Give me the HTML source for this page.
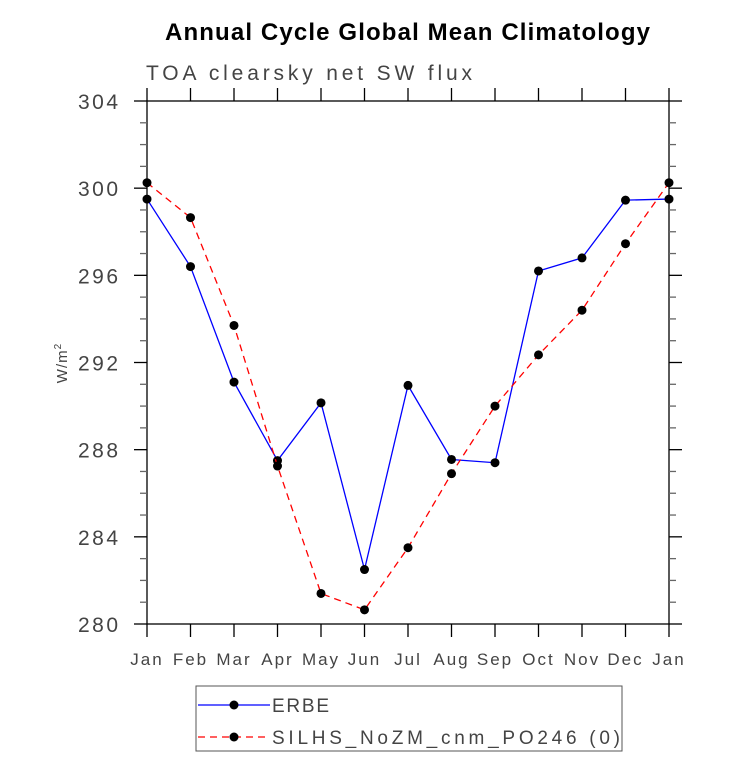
<!DOCTYPE html>
<html><head><meta charset="utf-8"><style>
body{margin:0;background:#fff;}
svg text{font-family:"Liberation Sans",sans-serif;}
</style></head><body>
<svg id="chart" width="733" height="761" xmlns="http://www.w3.org/2000/svg">
<text x="165" y="40" font-size="24" font-weight="bold" textLength="485" lengthAdjust="spacing">Annual Cycle Global Mean Climatology</text>
<text x="146" y="80" font-size="21" fill="#444" textLength="326" lengthAdjust="spacing">TOA clearsky net SW flux</text>
<text transform="translate(67,363) rotate(-90)" text-anchor="middle" font-size="15" fill="#444" letter-spacing="1">W/m<tspan dy="-6" font-size="10">2</tspan></text>
<g id="axes"></g>
<g id="series"></g>
<g>
<rect x="196" y="686" width="426" height="65" fill="none" stroke="#555" stroke-width="1"/>
<line x1="198" y1="705" x2="270" y2="705" stroke="#0000ff" stroke-width="1.3"/>
<circle cx="234" cy="705" r="4.5" fill="#000"/>
<text x="272" y="712" font-size="19" fill="#444" textLength="57" lengthAdjust="spacing">ERBE</text>
<line x1="198" y1="737" x2="270" y2="737" stroke="#ff0000" stroke-width="1.3" stroke-dasharray="7,5"/>
<circle cx="234" cy="737" r="4.5" fill="#000"/>
<text x="272" y="744" font-size="19" fill="#444" textLength="348" lengthAdjust="spacing">SILHS_NoZM_cnm_PO246 (0)</text>
</g>
</svg>
<script>
const months=["Jan","Feb","Mar","Apr","May","Jun","Jul","Aug","Sep","Oct","Nov","Dec","Jan"];
const erbe=[299.5,296.4,291.1,287.5,290.15,282.5,290.95,287.55,287.4,296.2,296.8,299.45,299.5];
const silhs=[300.25,298.65,293.7,287.25,281.4,280.65,283.5,286.9,290.0,292.35,294.4,297.45,300.25];
const yTicks=[280,284,288,292,296,300,304];
const X0=147,X1=669,Y0=624,Y1=101,YMIN=280,YMAX=304;
const xs=i=>X0+(X1-X0)*i/(months.length-1);
const ys=v=>Y0-(Y0-Y1)*(v-YMIN)/(YMAX-YMIN);
const NS="http://www.w3.org/2000/svg";
function mk(tag,attrs,parent){const e=document.createElementNS(NS,tag);for(const k in attrs)e.setAttribute(k,attrs[k]);parent.appendChild(e);return e;}
const ax=document.getElementById('axes');
const frame=mk('rect',{x:X0,y:Y1,width:X1-X0,height:Y0-Y1,fill:'none',stroke:'#000','stroke-width':1.3},ax);


months.forEach((m,i)=>{
  const x=xs(i);
  mk('line',{x1:x,y1:Y0,x2:x,y2:Y0+13,stroke:'#000','stroke-width':1.3},ax);
  mk('line',{x1:x,y1:Y1,x2:x,y2:Y1-13,stroke:'#000','stroke-width':1.3},ax);
  const t=mk('text',{x:x,y:Y0+41,'text-anchor':'middle','font-size':17,fill:'#444','letter-spacing':2},ax);
  t.textContent=m;
  
  
});
for(let v=YMIN;v<=YMAX;v+=1){
  const y=ys(v);const major=(v%4===0);const L=major?13:7;
  mk('line',{x1:X0,y1:y,x2:X0-L,y2:y,stroke:major?'#000':'#666','stroke-width':1.3},ax);
  mk('line',{x1:X1,y1:y,x2:X1+L,y2:y,stroke:major?'#000':'#666','stroke-width':1.3},ax);
}
yTicks.forEach(v=>{
  const t=mk('text',{x:X0-69,y:ys(v)+8,'font-size':21,fill:'#444',textLength:40,lengthAdjust:'spacing'},ax);
  t.textContent=v;
  
  
});
const sg=document.getElementById('series');
function draw(vals,color,dash,name){
  const p=mk('polyline',{points:vals.map((v,i)=>xs(i)+','+ys(v)).join(' '),fill:'none',stroke:color,'stroke-width':1.3,'stroke-dasharray':dash},sg);
  
  
  vals.forEach((v,i)=>{
    const c=mk('circle',{cx:xs(i),cy:ys(v),r:4.5,fill:'#000'},sg);
    
    
  });
}
draw(erbe,'#0000ff','none','erbe');
draw(silhs,'#ff0000','7,5','silhs');
</script>
</body></html>
